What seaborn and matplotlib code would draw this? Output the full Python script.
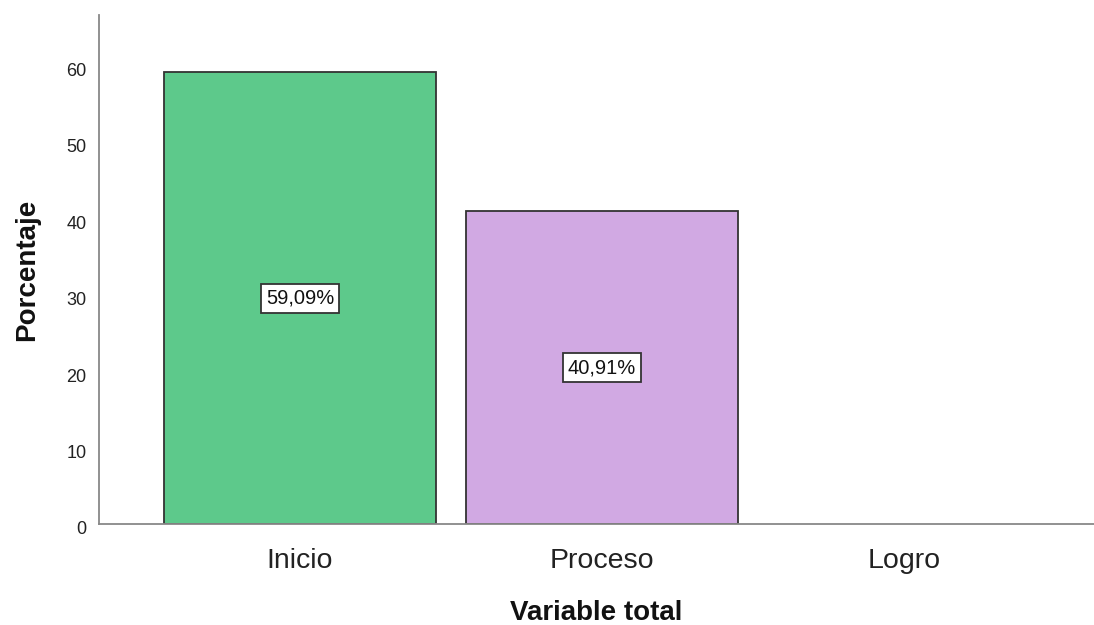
import matplotlib
matplotlib.use("Agg")
import matplotlib.pyplot as plt
import matplotlib.transforms as mtransforms
import seaborn as sns
import pandas as pd

categories = ["Inicio", "Proceso", "Logro"]
percentages = [59.09, 40.91, 0.0]
value_labels = ["59,09%", "40,91%", ""]
bar_colors = ["#5dc98b", "#d1a9e3", "#ffffff"]
y_ticks = [0, 10, 20, 30, 40, 50, 60]

sns.set_theme(style="white")
plt.rcParams["font.family"] = ["Liberation Sans", "DejaVu Sans"]

df = pd.DataFrame({"cat": categories, "pct": percentages})

fig = plt.figure(figsize=(10.94, 6.25), dpi=100)
ax = fig.add_axes([99 / 1094, 1 - 524 / 625, 1 - 99 / 1094, (524 - 15) / 625])

sns.barplot(data=df, x="cat", y="pct", hue="cat", order=categories,
            palette=dict(zip(categories, bar_colors)), legend=False,
            saturation=1, width=0.9, edgecolor="#333333", linewidth=1.3, ax=ax)

for p in ax.patches:
    if p.get_height() == 0:
        p.set_linewidth(0)

for i, (v, lab) in enumerate(zip(percentages, value_labels)):
    if lab:
        ax.text(i, v / 2, lab, ha="center", va="center", fontsize=14.5,
                color="#111111",
                bbox=dict(boxstyle="square,pad=0.25", fc="white", ec="#333333", lw=1.3))

ax.set_xlim(-0.666, 2.629)
ax.set_ylim(0, 66.6)
ax.set_yticks(y_ticks)
ax.set_yticklabels([str(t) for t in y_ticks], fontsize=13)
ax.tick_params(axis="y", length=0, pad=9, colors="#222222")
ax.tick_params(axis="x", length=0, pad=17, labelsize=20.5, colors="#222222")
offset = mtransforms.ScaledTranslation(0, -4 / 100, fig.dpi_scale_trans)
for lbl in ax.get_yticklabels():
    lbl.set_transform(lbl.get_transform() + offset)

ax.set_xlabel("Variable total", fontsize=20, fontweight="bold", labelpad=19, color="#111111")
ax.set_ylabel("Porcentaje", fontsize=20, fontweight="bold", labelpad=19, color="#111111")

for s in ["top", "right"]:
    ax.spines[s].set_visible(False)
for s in ["left", "bottom"]:
    ax.spines[s].set_color("#888888")
    ax.spines[s].set_linewidth(1.3)

fig.savefig("out.png", dpi=100)
